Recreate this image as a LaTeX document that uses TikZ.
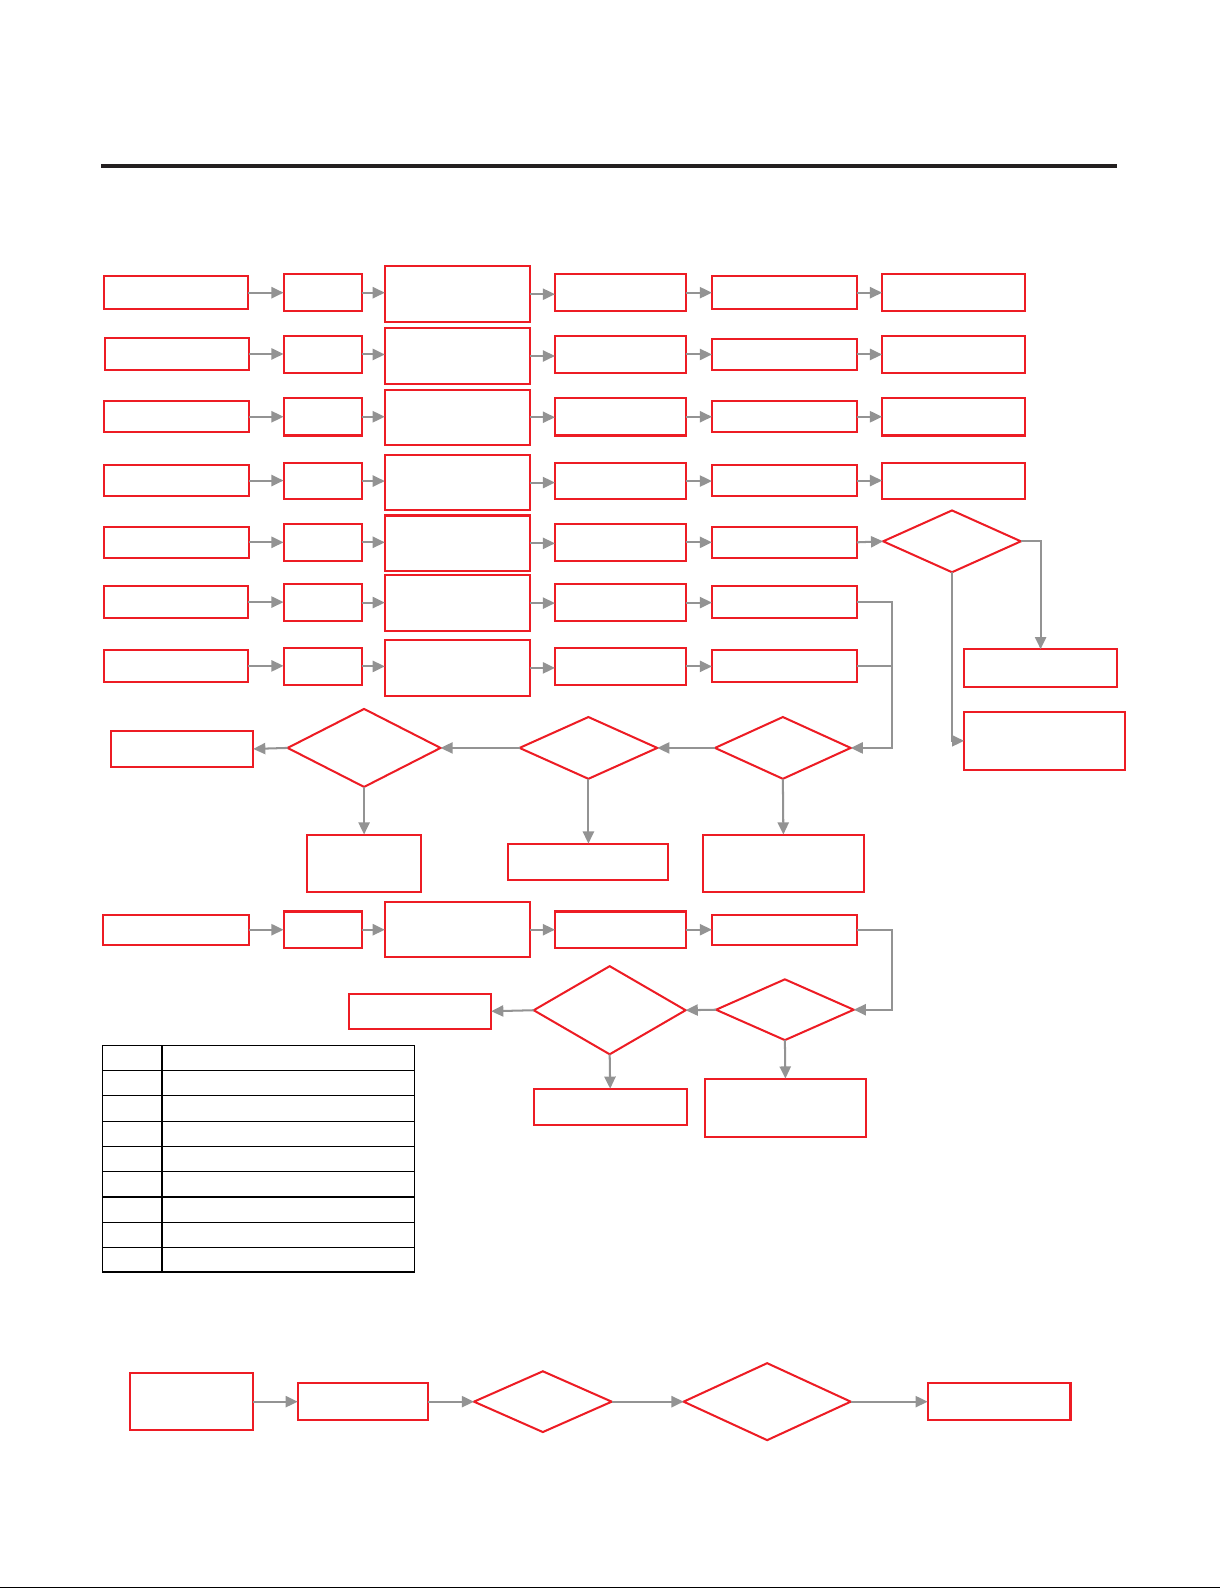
\documentclass[tikz,border=0pt]{standalone}
\usetikzlibrary{shapes.geometric,arrows.meta}
\definecolor{rd}{HTML}{ED1C24}
\definecolor{gr}{HTML}{939393}
\definecolor{bk}{HTML}{231F20}
\tikzset{
  rbox/.style={draw=rd, line width=1pt, inner sep=0pt, outer sep=0pt},
  rdia/.style={draw=rd, line width=1pt, diamond, inner sep=0pt, outer sep=0pt},
  arr/.style={draw=gr, line width=1pt, -{Triangle[length=6pt,width=5.5pt]}},
  link/.style={draw=gr, line width=1pt},
}
\newcommand\rbx[5]{\node[rbox, minimum width={(#4-#2)*0.5pt}, minimum height={(#5-#3)*0.5pt}] (#1) at ({(#2+#4)/2},{(#3+#5)/2}) {};}
\newcommand\rdm[5]{\node[rdia, minimum width={(#4-#2)*0.5pt}, minimum height={(#5-#3)*0.5pt}] (#1) at ({(#2+#4)/2},{(#3+#5)/2}) {};}
\begin{document}
\begin{tikzpicture}[x=0.5pt,y=-0.5pt]
\useasboundingbox (0,0) rectangle (1205,1568);
\draw[bk, line width=2pt] (100,164) -- (1103,164);
\draw[black, line width=0.5pt] (0,1567) -- (1205,1567);
% rows 1-7
\rbx{r1c1}{103}{273}{245}{305}
\rbx{r2c1}{104}{334}{246}{365}
\rbx{r3c1}{103}{396}{246}{427}
\rbx{r4c1}{103}{459}{246}{490}
\rbx{r5c1}{103}{520}{246}{551}
\rbx{r6c1}{103}{579}{245}{610}
\rbx{r7c1}{103}{642}{245}{673}
\rbx{r1c2}{280}{271}{357}{307}
\rbx{r2c2}{280}{332}{357}{368}
\rbx{r3c2}{280}{393}{357}{430}
\rbx{r4c2}{280}{457}{357}{493}
\rbx{r5c2}{280}{517}{357}{554}
\rbx{r6c2}{280}{577}{357}{613}
\rbx{r7c2}{280}{640}{357}{676}
\rbx{r1c3}{380}{263}{523}{318}
\rbx{r2c3}{380}{324}{523}{379}
\rbx{r3c3}{380}{385}{523}{439}
\rbx{r4c3}{380}{449}{523}{504}
\rbx{r5c3}{380}{509}{523}{564}
\rbx{r6c3}{380}{568}{523}{623}
\rbx{r7c3}{380}{632}{523}{687}
\rbx{r1c4}{548}{271}{677}{307}
\rbx{r2c4}{548}{332}{677}{368}
\rbx{r3c4}{548}{393}{677}{430}
\rbx{r4c4}{548}{457}{677}{493}
\rbx{r5c4}{548}{517}{677}{554}
\rbx{r6c4}{548}{577}{677}{613}
\rbx{r7c4}{548}{640}{677}{676}
\rbx{r1c5}{703}{273}{846}{305}
\rbx{r2c5}{703}{335}{846}{365}
\rbx{r3c5}{703}{396}{846}{427}
\rbx{r4c5}{703}{459}{846}{490}
\rbx{r5c5}{703}{520}{846}{551}
\rbx{r6c5}{703}{579}{846}{610}
\rbx{r7c5}{703}{642}{846}{673}
\rbx{r1c6}{871}{271}{1012}{307}
\rbx{r2c6}{871}{332}{1012}{368}
\rbx{r3c6}{871}{393}{1012}{430}
\rbx{r4c6}{871}{457}{1012}{493}
\rdm{r5d}{872}{504}{1008}{565}
\rbx{g1}{952}{641}{1103}{678}
\rbx{g2}{952}{703}{1111}{760}
\foreach \r in {1,...,7}{
  \foreach \a/\b in {1/2,2/3,3/4,4/5}{
    \draw[arr] (r\r c\a.east) -- (r\r c\a.east -| r\r c\b.west);
  }
}
\foreach \r in {1,...,4}{\draw[arr] (r\r c5.east) -- (r\r c5.east -| r\r c6.west);}
\draw[arr] (r5c5.east) -- (r5d.west);
\draw[arr] (r5d.east) -| (g1.north);
\draw[arr] (r5d.south) |- (g2.west);
% row 8 diamonds
\rdm{d1}{284}{700}{435}{777}
\rdm{d2}{513}{708}{649}{769}
\rdm{d3}{706}{708}{840}{769}
\rbx{o1}{110}{722}{250}{757}
\rbx{o2}{303}{824}{416}{881}
\rbx{o3}{502}{833}{660}{869}
\rbx{o4}{694}{824}{853}{881}
\coordinate (mx) at (881,0);
\draw[arr] (r6c5.east) -| (mx |- d3.east) -- (d3.east);
\draw[link] (r7c5.east) -- (r7c5.east -| mx);
\draw[arr] (d3.west) -- (d2.east);
\draw[arr] (d2.west) -- (d1.east);
\draw[arr] (d1.west) -- (o1.east);
\draw[arr] (d1.south) -- (o2.north);
\draw[arr] (d2.south) -- (o3.north);
\draw[arr] (d3.south) -- (o4.north);
% row 9
\rbx{s1}{102}{903}{246}{933}
\rbx{s2}{280}{900}{357}{936}
\rbx{s3}{380}{891}{523}{945}
\rbx{s4}{548}{900}{677}{936}
\rbx{s5}{703}{903}{846}{933}
\draw[arr] (s1.east) -- (s1.east -| s2.west);
\draw[arr] (s2.east) -- (s2.east -| s3.west);
\draw[arr] (s3.east) -- (s3.east -| s4.west);
\draw[arr] (s4.east) -- (s4.east -| s5.west);
\rdm{d4}{527}{954}{677}{1041}
\rdm{d5}{707}{967}{843}{1027}
\rbx{p1}{345}{981}{485}{1016}
\rbx{p2}{527}{1075}{678}{1111}
\rbx{p3}{696}{1065}{855}{1123}
\draw[arr] (s5.east) -| (mx |- d5.east) -- (d5.east);
\draw[arr] (d5.west) -- (d4.east);
\draw[arr] (d4.west) -- (p1.east);
\draw[arr] (d4.south) -- (p2.north);
\draw[arr] (d5.south) -- (p3.north);
% table
\draw[black, line width=0.6pt] (101,1032) rectangle (409,1256);
\draw[black, line width=0.6pt] (160,1032) -- (160,1256);
\foreach \y in {1057,1082,1107,1132,1157,1182,1207,1232}{
  \draw[black, line width=0.6pt] (101,\y) -- (409,\y);
}
% bottom row
\rbx{b1}{128}{1356}{250}{1412}
\rbx{b2}{294}{1366}{423}{1402}
\rdm{b3}{468}{1354}{604}{1414}
\rdm{b4}{675}{1346}{840}{1422}
\rbx{b5}{916}{1366}{1057}{1402}
\draw[arr] (b1.east) -- (b1.east -| b2.west);
\draw[arr] (b2.east) -- (b3.west);
\draw[arr] (b3.east) -- (b4.west);
\draw[arr] (b4.east) -- (b5.west);
\end{tikzpicture}
\end{document}
